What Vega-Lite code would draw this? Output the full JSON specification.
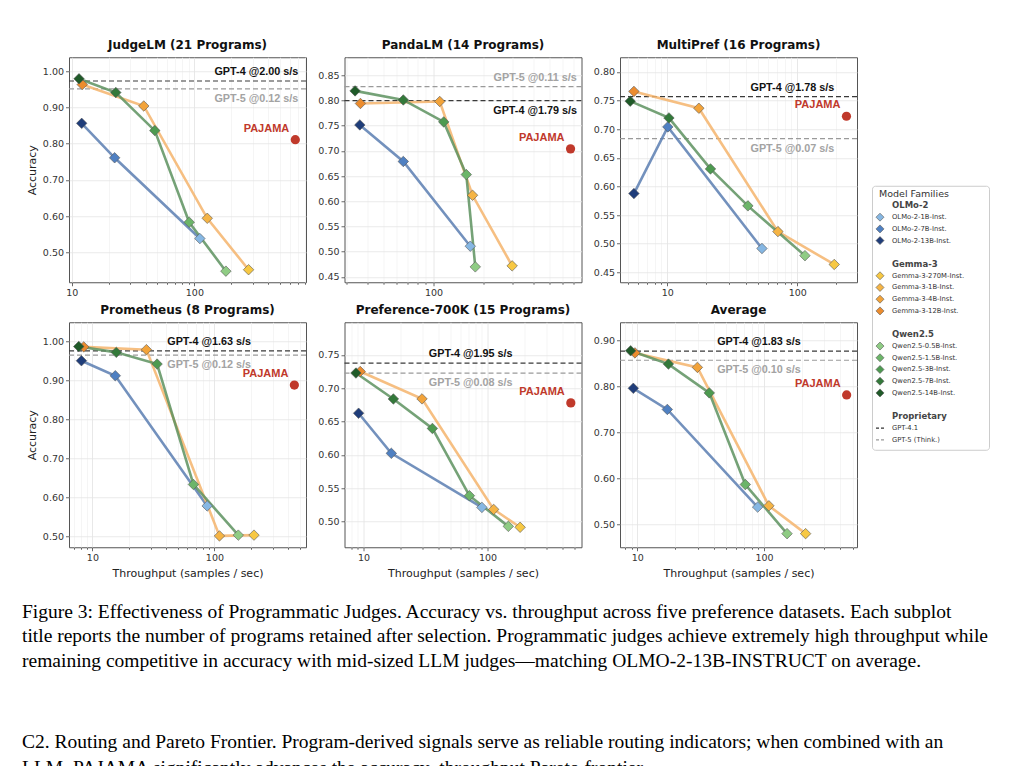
{
"$schema": "https://vega.github.io/schema/vega-lite/v6.json",
"background": "white",
"padding": {"left": 22, "top": 38, "right": 0, "bottom": 0},
"datasets": {
"models": [
{"ds":"JudgeLM","fam":"OLMo-2","m":"OLMo-2-13B-Inst.","x":12.07,"acc":0.856},
{"ds":"JudgeLM","fam":"OLMo-2","m":"OLMo-2-7B-Inst.","x":22.4,"acc":0.761},
{"ds":"JudgeLM","fam":"OLMo-2","m":"OLMo-2-1B-Inst.","x":110.9,"acc":0.538},
{"ds":"JudgeLM","fam":"Gemma-3","m":"Gemma-3-12B-Inst.","x":12.2,"acc":0.963},
{"ds":"JudgeLM","fam":"Gemma-3","m":"Gemma-3-4B-Inst.","x":38.7,"acc":0.904},
{"ds":"JudgeLM","fam":"Gemma-3","m":"Gemma-3-1B-Inst.","x":127.4,"acc":0.594},
{"ds":"JudgeLM","fam":"Gemma-3","m":"Gemma-3-270M-Inst.","x":276.7,"acc":0.452},
{"ds":"JudgeLM","fam":"Qwen2.5","m":"Qwen2.5-14B-Inst.","x":11.48,"acc":0.979},
{"ds":"JudgeLM","fam":"Qwen2.5","m":"Qwen2.5-7B-Inst.","x":22.9,"acc":0.941},
{"ds":"JudgeLM","fam":"Qwen2.5","m":"Qwen2.5-3B-Inst.","x":47.6,"acc":0.836},
{"ds":"JudgeLM","fam":"Qwen2.5","m":"Qwen2.5-1.5B-Inst.","x":90.8,"acc":0.583},
{"ds":"JudgeLM","fam":"Qwen2.5","m":"Qwen2.5-0.5B-Inst.","x":180.7,"acc":0.448},
{"ds":"PandaLM","fam":"OLMo-2","m":"OLMo-2-13B-Inst.","x":36.0,"acc":0.7515},
{"ds":"PandaLM","fam":"OLMo-2","m":"OLMo-2-7B-Inst.","x":65.8,"acc":0.679},
{"ds":"PandaLM","fam":"OLMo-2","m":"OLMo-2-1B-Inst.","x":166.7,"acc":0.511},
{"ds":"PandaLM","fam":"Gemma-3","m":"Gemma-3-12B-Inst.","x":36.3,"acc":0.794},
{"ds":"PandaLM","fam":"Gemma-3","m":"Gemma-3-4B-Inst.","x":109.1,"acc":0.798},
{"ds":"PandaLM","fam":"Gemma-3","m":"Gemma-3-1B-Inst.","x":172,"acc":0.612},
{"ds":"PandaLM","fam":"Gemma-3","m":"Gemma-3-270M-Inst.","x":298,"acc":0.472},
{"ds":"PandaLM","fam":"Qwen2.5","m":"Qwen2.5-14B-Inst.","x":33.7,"acc":0.819},
{"ds":"PandaLM","fam":"Qwen2.5","m":"Qwen2.5-7B-Inst.","x":65.8,"acc":0.801},
{"ds":"PandaLM","fam":"Qwen2.5","m":"Qwen2.5-3B-Inst.","x":115.3,"acc":0.7575},
{"ds":"PandaLM","fam":"Qwen2.5","m":"Qwen2.5-1.5B-Inst.","x":157.7,"acc":0.653},
{"ds":"PandaLM","fam":"Qwen2.5","m":"Qwen2.5-0.5B-Inst.","x":178.7,"acc":0.47},
{"ds":"MultiPref","fam":"OLMo-2","m":"OLMo-2-13B-Inst.","x":5.54,"acc":0.5875},
{"ds":"MultiPref","fam":"OLMo-2","m":"OLMo-2-7B-Inst.","x":10.1,"acc":0.704},
{"ds":"MultiPref","fam":"OLMo-2","m":"OLMo-2-1B-Inst.","x":53.5,"acc":0.4915},
{"ds":"MultiPref","fam":"Gemma-3","m":"Gemma-3-12B-Inst.","x":5.54,"acc":0.766},
{"ds":"MultiPref","fam":"Gemma-3","m":"Gemma-3-4B-Inst.","x":17.5,"acc":0.7366},
{"ds":"MultiPref","fam":"Gemma-3","m":"Gemma-3-1B-Inst.","x":71.0,"acc":0.521},
{"ds":"MultiPref","fam":"Gemma-3","m":"Gemma-3-270M-Inst.","x":192.5,"acc":0.4636},
{"ds":"MultiPref","fam":"Qwen2.5","m":"Qwen2.5-14B-Inst.","x":5.19,"acc":0.749},
{"ds":"MultiPref","fam":"Qwen2.5","m":"Qwen2.5-7B-Inst.","x":10.3,"acc":0.7197},
{"ds":"MultiPref","fam":"Qwen2.5","m":"Qwen2.5-3B-Inst.","x":21.5,"acc":0.6306},
{"ds":"MultiPref","fam":"Qwen2.5","m":"Qwen2.5-1.5B-Inst.","x":41.7,"acc":0.566},
{"ds":"MultiPref","fam":"Qwen2.5","m":"Qwen2.5-0.5B-Inst.","x":114.6,"acc":0.479},
{"ds":"Prometheus","fam":"OLMo-2","m":"OLMo-2-13B-Inst.","x":8.13,"acc":0.9506},
{"ds":"Prometheus","fam":"OLMo-2","m":"OLMo-2-7B-Inst.","x":15.4,"acc":0.912},
{"ds":"Prometheus","fam":"OLMo-2","m":"OLMo-2-1B-Inst.","x":87.2,"acc":0.578},
{"ds":"Prometheus","fam":"Gemma-3","m":"Gemma-3-12B-Inst.","x":8.49,"acc":0.986},
{"ds":"Prometheus","fam":"Gemma-3","m":"Gemma-3-4B-Inst.","x":27.7,"acc":0.979},
{"ds":"Prometheus","fam":"Gemma-3","m":"Gemma-3-1B-Inst.","x":110,"acc":0.501},
{"ds":"Prometheus","fam":"Gemma-3","m":"Gemma-3-270M-Inst.","x":211,"acc":0.503},
{"ds":"Prometheus","fam":"Qwen2.5","m":"Qwen2.5-14B-Inst.","x":7.73,"acc":0.987},
{"ds":"Prometheus","fam":"Qwen2.5","m":"Qwen2.5-7B-Inst.","x":15.7,"acc":0.972},
{"ds":"Prometheus","fam":"Qwen2.5","m":"Qwen2.5-3B-Inst.","x":33.9,"acc":0.942},
{"ds":"Prometheus","fam":"Qwen2.5","m":"Qwen2.5-1.5B-Inst.","x":67.3,"acc":0.633},
{"ds":"Prometheus","fam":"Qwen2.5","m":"Qwen2.5-0.5B-Inst.","x":157,"acc":0.503},
{"ds":"Preference-700K","fam":"OLMo-2","m":"OLMo-2-13B-Inst.","x":9.12,"acc":0.6625},
{"ds":"Preference-700K","fam":"OLMo-2","m":"OLMo-2-7B-Inst.","x":16.75,"acc":0.6024},
{"ds":"Preference-700K","fam":"OLMo-2","m":"OLMo-2-1B-Inst.","x":90.0,"acc":0.5214},
{"ds":"Preference-700K","fam":"Gemma-3","m":"Gemma-3-12B-Inst.","x":9.4,"acc":0.725},
{"ds":"Preference-700K","fam":"Gemma-3","m":"Gemma-3-4B-Inst.","x":29.6,"acc":0.684},
{"ds":"Preference-700K","fam":"Gemma-3","m":"Gemma-3-1B-Inst.","x":112,"acc":0.5184},
{"ds":"Preference-700K","fam":"Gemma-3","m":"Gemma-3-270M-Inst.","x":183,"acc":0.4916},
{"ds":"Preference-700K","fam":"Qwen2.5","m":"Qwen2.5-14B-Inst.","x":8.68,"acc":0.7227},
{"ds":"Preference-700K","fam":"Qwen2.5","m":"Qwen2.5-7B-Inst.","x":17.4,"acc":0.6839},
{"ds":"Preference-700K","fam":"Qwen2.5","m":"Qwen2.5-3B-Inst.","x":35.9,"acc":0.6397},
{"ds":"Preference-700K","fam":"Qwen2.5","m":"Qwen2.5-1.5B-Inst.","x":71.4,"acc":0.539},
{"ds":"Preference-700K","fam":"Qwen2.5","m":"Qwen2.5-0.5B-Inst.","x":147,"acc":0.493},
{"ds":"Average","fam":"OLMo-2","m":"OLMo-2-13B-Inst.","x":9.3,"acc":0.796},
{"ds":"Average","fam":"OLMo-2","m":"OLMo-2-7B-Inst.","x":17.25,"acc":0.75},
{"ds":"Average","fam":"OLMo-2","m":"OLMo-2-1B-Inst.","x":89.1,"acc":0.5376},
{"ds":"Average","fam":"Gemma-3","m":"Gemma-3-12B-Inst.","x":9.58,"acc":0.873},
{"ds":"Average","fam":"Gemma-3","m":"Gemma-3-4B-Inst.","x":29.8,"acc":0.8415},
{"ds":"Average","fam":"Gemma-3","m":"Gemma-3-1B-Inst.","x":109.3,"acc":0.5404},
{"ds":"Average","fam":"Gemma-3","m":"Gemma-3-270M-Inst.","x":213,"acc":0.4798},
{"ds":"Average","fam":"Qwen2.5","m":"Qwen2.5-14B-Inst.","x":8.86,"acc":0.8776},
{"ds":"Average","fam":"Qwen2.5","m":"Qwen2.5-7B-Inst.","x":17.6,"acc":0.8487},
{"ds":"Average","fam":"Qwen2.5","m":"Qwen2.5-3B-Inst.","x":37.0,"acc":0.786},
{"ds":"Average","fam":"Qwen2.5","m":"Qwen2.5-1.5B-Inst.","x":71.2,"acc":0.5867},
{"ds":"Average","fam":"Qwen2.5","m":"Qwen2.5-0.5B-Inst.","x":152,"acc":0.4798}
],
"refs": [
{"ds":"JudgeLM","kind":"GPT-4","acc":0.973,"x":320,"label":"GPT-4 @2.00 s/s"},
{"ds":"JudgeLM","kind":"GPT-5","acc":0.951,"x":320,"label":"GPT-5 @0.12 s/s"},
{"ds":"PandaLM","kind":"GPT-4","acc":0.7998,"x":410,"label":"GPT-4 @1.79 s/s"},
{"ds":"PandaLM","kind":"GPT-5","acc":0.8275,"x":410,"label":"GPT-5 @0.11 s/s"},
{"ds":"MultiPref","kind":"GPT-4","acc":0.757,"x":91.7,"label":"GPT-4 @1.78 s/s"},
{"ds":"MultiPref","kind":"GPT-5","acc":0.6836,"x":91.7,"label":"GPT-5 @0.07 s/s"},
{"ds":"Prometheus","kind":"GPT-4","acc":0.976,"x":90.5,"label":"GPT-4 @1.63 s/s"},
{"ds":"Prometheus","kind":"GPT-5","acc":0.965,"x":90.5,"label":"GPT-5 @0.12 s/s"},
{"ds":"Preference-700K","kind":"GPT-4","acc":0.7376,"x":73.1,"label":"GPT-4 @1.95 s/s"},
{"ds":"Preference-700K","kind":"GPT-5","acc":0.7227,"x":73.1,"label":"GPT-5 @0.08 s/s"},
{"ds":"Average","kind":"GPT-4","acc":0.877,"x":91.3,"label":"GPT-4 @1.83 s/s"},
{"ds":"Average","kind":"GPT-5","acc":0.857,"x":91.3,"label":"GPT-5 @0.10 s/s"}
],
"pajama": [
{"ds":"JudgeLM","x":665,"acc":0.811},
{"ds":"PandaLM","x":670,"acc":0.704},
{"ds":"MultiPref","x":239,"acc":0.7226},
{"ds":"Prometheus","x":452,"acc":0.888},
{"ds":"Preference-700K","x":469,"acc":0.678},
{"ds":"Average","x":449,"acc":0.7816}
],
"legend": [
{"i":0,"kind":"title","label":"Model Families"},
{"i":1,"kind":"header","label":"OLMo-2"},
{"i":2,"kind":"model","label":"OLMo-2-1B-Inst."},
{"i":3,"kind":"model","label":"OLMo-2-7B-Inst."},
{"i":4,"kind":"model","label":"OLMo-2-13B-Inst."},
{"i":6,"kind":"header","label":"Gemma-3"},
{"i":7,"kind":"model","label":"Gemma-3-270M-Inst."},
{"i":8,"kind":"model","label":"Gemma-3-1B-Inst."},
{"i":9,"kind":"model","label":"Gemma-3-4B-Inst."},
{"i":10,"kind":"model","label":"Gemma-3-12B-Inst."},
{"i":12,"kind":"header","label":"Qwen2.5"},
{"i":13,"kind":"model","label":"Qwen2.5-0.5B-Inst."},
{"i":14,"kind":"model","label":"Qwen2.5-1.5B-Inst."},
{"i":15,"kind":"model","label":"Qwen2.5-3B-Inst."},
{"i":16,"kind":"model","label":"Qwen2.5-7B-Inst."},
{"i":17,"kind":"model","label":"Qwen2.5-14B-Inst."},
{"i":19,"kind":"header","label":"Proprietary"},
{"i":20,"kind":"ref","label":"GPT-4.1","ref":"GPT-4"},
{"i":21,"kind":"ref","label":"GPT-5 (Think.)","ref":"GPT-5"}
]
},
"hconcat": [
{"vconcat": [
{"hconcat": [
{"width": 237, "height": 225, "title": "JudgeLM (21 Programs)",
 "encoding": {"y": {"field":"acc","type":"quantitative","title":"Accuracy","scale":{"domain":[0.4174,1.0385],"nice":false,"zero":false},"axis":{"values":[0.5,0.6,0.7,0.8,0.9,1.0],"format":".2f"}}},
 "layer": [
  {"data":{"name":"refs"},"transform":[{"filter":"datum.ds == 'JudgeLM'"}],"mark":{"type":"rule","strokeDash":[5,3],"strokeWidth":1.2},"encoding":{"color":{"condition":{"test":"datum.kind == 'GPT-4'","value":"#3a3a3a"},"value":"#9a9a9a"}}},
  {"data":{"name":"models"},"transform":[{"filter":"datum.ds == 'JudgeLM'"}],"mark":{"type":"line","strokeWidth":2.6,"opacity":0.85},"encoding":{"x":{"field":"x","type":"quantitative","title":null,"scale":{"type":"log","domain":[9.51,813],"nice":false},"axis":{"values":[10,20,30,40,50,60,70,80,90,100,200,300,400,500,600,700,800],"format":"d","labelExpr":"datum.value == 10 || datum.value == 100 ? datum.label : ''","tickSize":{"condition":{"test":"datum.value == 10 || datum.value == 100","value":3.5},"value":2},"gridColor":{"condition":{"test":"datum.value == 10 || datum.value == 100","value":"#e2e2e2"},"value":"#f2f2f2"}}},"stroke":{"field":"fam","type":"nominal","scale":{"domain":["OLMo-2","Gemma-3","Qwen2.5"],"range":["#5b7eb2","#f5b46c","#5d925f"]},"legend":null}}},
  {"data":{"name":"models"},"transform":[{"filter":"datum.ds == 'JudgeLM'"}],"mark":{"type":"point","shape":"diamond","filled":true,"size":110,"stroke":"#555555","strokeWidth":0.6,"opacity":1},"encoding":{"x":{"field":"x","type":"quantitative","title":null,"scale":{"type":"log","domain":[9.51,813],"nice":false}},
   "fill":{"field":"m","type":"nominal","legend":null,"scale":{"domain":["OLMo-2-1B-Inst.","OLMo-2-7B-Inst.","OLMo-2-13B-Inst.","Gemma-3-270M-Inst.","Gemma-3-1B-Inst.","Gemma-3-4B-Inst.","Gemma-3-12B-Inst.","Qwen2.5-0.5B-Inst.","Qwen2.5-1.5B-Inst.","Qwen2.5-3B-Inst.","Qwen2.5-7B-Inst.","Qwen2.5-14B-Inst."],"range":["#86b7e3","#4f80c2","#1f3d7a","#f7c843","#f5b445","#f2a33a","#ec8c2e","#8fcc84","#6cb569","#4d9a50","#33793a","#1f5a28"]}}}},
  {"data":{"name":"pajama"},"transform":[{"filter":"datum.ds == 'JudgeLM'"}],"mark":{"type":"point","shape":"circle","filled":true,"size":85,"color":"#c0392b","opacity":1},"encoding":{"x":{"field":"x","type":"quantitative","title":null,"scale":{"type":"log","domain":[9.51,813],"nice":false}}}},
  {"data":{"name":"pajama"},"transform":[{"filter":"datum.ds == 'JudgeLM'"}],"mark":{"type":"text","text":"PAJAMA","align":"right","baseline":"middle","dx":-6,"dy":-11,"font":"Liberation Sans","fontWeight":"bold","fontSize":11,"color":"#c0392b"},"encoding":{"x":{"field":"x","type":"quantitative","title":null,"scale":{"type":"log","domain":[9.51,813],"nice":false}}}},
  {"data":{"name":"refs"},"transform":[{"filter":"datum.ds == 'JudgeLM'"},{"joinaggregate":[{"op":"max","field":"acc","as":"mx"}]},{"filter":"datum.acc == datum.mx"}],"mark":{"type":"text","baseline":"middle","dy":-9,"font":"Liberation Sans","fontWeight":"bold","fontSize":10.8},"encoding":{"x":{"field":"x","type":"quantitative","title":null,"scale":{"type":"log","domain":[9.51,813],"nice":false}},"text":{"field":"label"},"color":{"condition":{"test":"datum.kind == 'GPT-4'","value":"#111111"},"value":"#a3a3a3"}}},
  {"data":{"name":"refs"},"transform":[{"filter":"datum.ds == 'JudgeLM'"},{"joinaggregate":[{"op":"max","field":"acc","as":"mx"}]},{"filter":"datum.acc < datum.mx"}],"mark":{"type":"text","baseline":"middle","dy":10,"font":"Liberation Sans","fontWeight":"bold","fontSize":10.8},"encoding":{"x":{"field":"x","type":"quantitative","title":null,"scale":{"type":"log","domain":[9.51,813],"nice":false}},"text":{"field":"label"},"color":{"condition":{"test":"datum.kind == 'GPT-4'","value":"#111111"},"value":"#a3a3a3"}}}
 ]},
{"width": 237, "height": 225, "title": "PandaLM (14 Programs)",
 "encoding": {"y": {"field":"acc","type":"quantitative","title":null,"scale":{"domain":[0.4395,0.8857],"nice":false,"zero":false},"axis":{"values":[0.45,0.5,0.55,0.6,0.65,0.7,0.75,0.8,0.85],"format":".2f"}}},
 "layer": [
  {"data":{"name":"refs"},"transform":[{"filter":"datum.ds == 'PandaLM'"}],"mark":{"type":"rule","strokeDash":[5,3],"strokeWidth":1.2},"encoding":{"color":{"condition":{"test":"datum.kind == 'GPT-4'","value":"#3a3a3a"},"value":"#9a9a9a"}}},
  {"data":{"name":"models"},"transform":[{"filter":"datum.ds == 'PandaLM'"}],"mark":{"type":"line","strokeWidth":2.6,"opacity":0.85},"encoding":{"x":{"field":"x","type":"quantitative","title":null,"scale":{"type":"log","domain":[29.1,780],"nice":false},"axis":{"values":[30,40,50,60,70,80,90,100,200,300,400,500,600,700],"format":"d","labelExpr":"datum.value == 10 || datum.value == 100 ? datum.label : ''","tickSize":{"condition":{"test":"datum.value == 10 || datum.value == 100","value":3.5},"value":2},"gridColor":{"condition":{"test":"datum.value == 10 || datum.value == 100","value":"#e2e2e2"},"value":"#f2f2f2"}}},"stroke":{"field":"fam","type":"nominal","scale":{"domain":["OLMo-2","Gemma-3","Qwen2.5"],"range":["#5b7eb2","#f5b46c","#5d925f"]},"legend":null}}},
  {"data":{"name":"models"},"transform":[{"filter":"datum.ds == 'PandaLM'"}],"mark":{"type":"point","shape":"diamond","filled":true,"size":110,"stroke":"#555555","strokeWidth":0.6,"opacity":1},"encoding":{"x":{"field":"x","type":"quantitative","title":null,"scale":{"type":"log","domain":[29.1,780],"nice":false}},
   "fill":{"field":"m","type":"nominal","legend":null,"scale":{"domain":["OLMo-2-1B-Inst.","OLMo-2-7B-Inst.","OLMo-2-13B-Inst.","Gemma-3-270M-Inst.","Gemma-3-1B-Inst.","Gemma-3-4B-Inst.","Gemma-3-12B-Inst.","Qwen2.5-0.5B-Inst.","Qwen2.5-1.5B-Inst.","Qwen2.5-3B-Inst.","Qwen2.5-7B-Inst.","Qwen2.5-14B-Inst."],"range":["#86b7e3","#4f80c2","#1f3d7a","#f7c843","#f5b445","#f2a33a","#ec8c2e","#8fcc84","#6cb569","#4d9a50","#33793a","#1f5a28"]}}}},
  {"data":{"name":"pajama"},"transform":[{"filter":"datum.ds == 'PandaLM'"}],"mark":{"type":"point","shape":"circle","filled":true,"size":85,"color":"#c0392b","opacity":1},"encoding":{"x":{"field":"x","type":"quantitative","title":null,"scale":{"type":"log","domain":[29.1,780],"nice":false}}}},
  {"data":{"name":"pajama"},"transform":[{"filter":"datum.ds == 'PandaLM'"}],"mark":{"type":"text","text":"PAJAMA","align":"right","baseline":"middle","dx":-6,"dy":-11,"font":"Liberation Sans","fontWeight":"bold","fontSize":11,"color":"#c0392b"},"encoding":{"x":{"field":"x","type":"quantitative","title":null,"scale":{"type":"log","domain":[29.1,780],"nice":false}}}},
  {"data":{"name":"refs"},"transform":[{"filter":"datum.ds == 'PandaLM'"},{"joinaggregate":[{"op":"max","field":"acc","as":"mx"}]},{"filter":"datum.acc == datum.mx"}],"mark":{"type":"text","baseline":"middle","dy":-9,"font":"Liberation Sans","fontWeight":"bold","fontSize":10.8},"encoding":{"x":{"field":"x","type":"quantitative","title":null,"scale":{"type":"log","domain":[29.1,780],"nice":false}},"text":{"field":"label"},"color":{"condition":{"test":"datum.kind == 'GPT-4'","value":"#111111"},"value":"#a3a3a3"}}},
  {"data":{"name":"refs"},"transform":[{"filter":"datum.ds == 'PandaLM'"},{"joinaggregate":[{"op":"max","field":"acc","as":"mx"}]},{"filter":"datum.acc < datum.mx"}],"mark":{"type":"text","baseline":"middle","dy":10,"font":"Liberation Sans","fontWeight":"bold","fontSize":10.8},"encoding":{"x":{"field":"x","type":"quantitative","title":null,"scale":{"type":"log","domain":[29.1,780],"nice":false}},"text":{"field":"label"},"color":{"condition":{"test":"datum.kind == 'GPT-4'","value":"#111111"},"value":"#a3a3a3"}}}
 ]},
{"width": 237, "height": 225, "title": "MultiPref (16 Programs)",
 "encoding": {"y": {"field":"acc","type":"quantitative","title":null,"scale":{"domain":[0.4325,0.8257],"nice":false,"zero":false},"axis":{"values":[0.45,0.5,0.55,0.6,0.65,0.7,0.75,0.8],"format":".2f"}}},
 "layer": [
  {"data":{"name":"refs"},"transform":[{"filter":"datum.ds == 'MultiPref'"}],"mark":{"type":"rule","strokeDash":[5,3],"strokeWidth":1.2},"encoding":{"color":{"condition":{"test":"datum.kind == 'GPT-4'","value":"#3a3a3a"},"value":"#9a9a9a"}}},
  {"data":{"name":"models"},"transform":[{"filter":"datum.ds == 'MultiPref'"}],"mark":{"type":"line","strokeWidth":2.6,"opacity":0.85},"encoding":{"x":{"field":"x","type":"quantitative","title":null,"scale":{"type":"log","domain":[4.33,288],"nice":false},"axis":{"values":[5,6,7,8,9,10,20,30,40,50,60,70,80,90,100,200],"format":"d","labelExpr":"datum.value == 10 || datum.value == 100 ? datum.label : ''","tickSize":{"condition":{"test":"datum.value == 10 || datum.value == 100","value":3.5},"value":2},"gridColor":{"condition":{"test":"datum.value == 10 || datum.value == 100","value":"#e2e2e2"},"value":"#f2f2f2"}}},"stroke":{"field":"fam","type":"nominal","scale":{"domain":["OLMo-2","Gemma-3","Qwen2.5"],"range":["#5b7eb2","#f5b46c","#5d925f"]},"legend":null}}},
  {"data":{"name":"models"},"transform":[{"filter":"datum.ds == 'MultiPref'"}],"mark":{"type":"point","shape":"diamond","filled":true,"size":110,"stroke":"#555555","strokeWidth":0.6,"opacity":1},"encoding":{"x":{"field":"x","type":"quantitative","title":null,"scale":{"type":"log","domain":[4.33,288],"nice":false}},
   "fill":{"field":"m","type":"nominal","legend":null,"scale":{"domain":["OLMo-2-1B-Inst.","OLMo-2-7B-Inst.","OLMo-2-13B-Inst.","Gemma-3-270M-Inst.","Gemma-3-1B-Inst.","Gemma-3-4B-Inst.","Gemma-3-12B-Inst.","Qwen2.5-0.5B-Inst.","Qwen2.5-1.5B-Inst.","Qwen2.5-3B-Inst.","Qwen2.5-7B-Inst.","Qwen2.5-14B-Inst."],"range":["#86b7e3","#4f80c2","#1f3d7a","#f7c843","#f5b445","#f2a33a","#ec8c2e","#8fcc84","#6cb569","#4d9a50","#33793a","#1f5a28"]}}}},
  {"data":{"name":"pajama"},"transform":[{"filter":"datum.ds == 'MultiPref'"}],"mark":{"type":"point","shape":"circle","filled":true,"size":85,"color":"#c0392b","opacity":1},"encoding":{"x":{"field":"x","type":"quantitative","title":null,"scale":{"type":"log","domain":[4.33,288],"nice":false}}}},
  {"data":{"name":"pajama"},"transform":[{"filter":"datum.ds == 'MultiPref'"}],"mark":{"type":"text","text":"PAJAMA","align":"right","baseline":"middle","dx":-6,"dy":-11,"font":"Liberation Sans","fontWeight":"bold","fontSize":11,"color":"#c0392b"},"encoding":{"x":{"field":"x","type":"quantitative","title":null,"scale":{"type":"log","domain":[4.33,288],"nice":false}}}},
  {"data":{"name":"refs"},"transform":[{"filter":"datum.ds == 'MultiPref'"},{"joinaggregate":[{"op":"max","field":"acc","as":"mx"}]},{"filter":"datum.acc == datum.mx"}],"mark":{"type":"text","baseline":"middle","dy":-9,"font":"Liberation Sans","fontWeight":"bold","fontSize":10.8},"encoding":{"x":{"field":"x","type":"quantitative","title":null,"scale":{"type":"log","domain":[4.33,288],"nice":false}},"text":{"field":"label"},"color":{"condition":{"test":"datum.kind == 'GPT-4'","value":"#111111"},"value":"#a3a3a3"}}},
  {"data":{"name":"refs"},"transform":[{"filter":"datum.ds == 'MultiPref'"},{"joinaggregate":[{"op":"max","field":"acc","as":"mx"}]},{"filter":"datum.acc < datum.mx"}],"mark":{"type":"text","baseline":"middle","dy":10,"font":"Liberation Sans","fontWeight":"bold","fontSize":10.8},"encoding":{"x":{"field":"x","type":"quantitative","title":null,"scale":{"type":"log","domain":[4.33,288],"nice":false}},"text":{"field":"label"},"color":{"condition":{"test":"datum.kind == 'GPT-4'","value":"#111111"},"value":"#a3a3a3"}}}
 ]}
], "spacing": 38.5, "bounds": "flush"},
{"hconcat": [
{"width": 237, "height": 225, "title": "Prometheus (8 Programs)",
 "encoding": {"y": {"field":"acc","type":"quantitative","title":"Accuracy","scale":{"domain":[0.4719,1.0493],"nice":false,"zero":false},"axis":{"values":[0.5,0.6,0.7,0.8,0.9,1.0],"format":".2f"}}},
 "layer": [
  {"data":{"name":"refs"},"transform":[{"filter":"datum.ds == 'Prometheus'"}],"mark":{"type":"rule","strokeDash":[5,3],"strokeWidth":1.2},"encoding":{"color":{"condition":{"test":"datum.kind == 'GPT-4'","value":"#3a3a3a"},"value":"#9a9a9a"}}},
  {"data":{"name":"models"},"transform":[{"filter":"datum.ds == 'Prometheus'"}],"mark":{"type":"line","strokeWidth":2.6,"opacity":0.85},"encoding":{"x":{"field":"x","type":"quantitative","title":"Throughput (samples / sec)","scale":{"type":"log","domain":[6.43,563],"nice":false},"axis":{"values":[7,8,9,10,20,30,40,50,60,70,80,90,100,200,300,400,500],"format":"d","labelExpr":"datum.value == 10 || datum.value == 100 ? datum.label : ''","tickSize":{"condition":{"test":"datum.value == 10 || datum.value == 100","value":3.5},"value":2},"gridColor":{"condition":{"test":"datum.value == 10 || datum.value == 100","value":"#e2e2e2"},"value":"#f2f2f2"}}},"stroke":{"field":"fam","type":"nominal","scale":{"domain":["OLMo-2","Gemma-3","Qwen2.5"],"range":["#5b7eb2","#f5b46c","#5d925f"]},"legend":null}}},
  {"data":{"name":"models"},"transform":[{"filter":"datum.ds == 'Prometheus'"}],"mark":{"type":"point","shape":"diamond","filled":true,"size":110,"stroke":"#555555","strokeWidth":0.6,"opacity":1},"encoding":{"x":{"field":"x","type":"quantitative","title":"Throughput (samples / sec)","scale":{"type":"log","domain":[6.43,563],"nice":false}},
   "fill":{"field":"m","type":"nominal","legend":null,"scale":{"domain":["OLMo-2-1B-Inst.","OLMo-2-7B-Inst.","OLMo-2-13B-Inst.","Gemma-3-270M-Inst.","Gemma-3-1B-Inst.","Gemma-3-4B-Inst.","Gemma-3-12B-Inst.","Qwen2.5-0.5B-Inst.","Qwen2.5-1.5B-Inst.","Qwen2.5-3B-Inst.","Qwen2.5-7B-Inst.","Qwen2.5-14B-Inst."],"range":["#86b7e3","#4f80c2","#1f3d7a","#f7c843","#f5b445","#f2a33a","#ec8c2e","#8fcc84","#6cb569","#4d9a50","#33793a","#1f5a28"]}}}},
  {"data":{"name":"pajama"},"transform":[{"filter":"datum.ds == 'Prometheus'"}],"mark":{"type":"point","shape":"circle","filled":true,"size":85,"color":"#c0392b","opacity":1},"encoding":{"x":{"field":"x","type":"quantitative","title":"Throughput (samples / sec)","scale":{"type":"log","domain":[6.43,563],"nice":false}}}},
  {"data":{"name":"pajama"},"transform":[{"filter":"datum.ds == 'Prometheus'"}],"mark":{"type":"text","text":"PAJAMA","align":"right","baseline":"middle","dx":-6,"dy":-11,"font":"Liberation Sans","fontWeight":"bold","fontSize":11,"color":"#c0392b"},"encoding":{"x":{"field":"x","type":"quantitative","title":"Throughput (samples / sec)","scale":{"type":"log","domain":[6.43,563],"nice":false}}}},
  {"data":{"name":"refs"},"transform":[{"filter":"datum.ds == 'Prometheus'"},{"joinaggregate":[{"op":"max","field":"acc","as":"mx"}]},{"filter":"datum.acc == datum.mx"}],"mark":{"type":"text","baseline":"middle","dy":-9,"font":"Liberation Sans","fontWeight":"bold","fontSize":10.8},"encoding":{"x":{"field":"x","type":"quantitative","title":"Throughput (samples / sec)","scale":{"type":"log","domain":[6.43,563],"nice":false}},"text":{"field":"label"},"color":{"condition":{"test":"datum.kind == 'GPT-4'","value":"#111111"},"value":"#a3a3a3"}}},
  {"data":{"name":"refs"},"transform":[{"filter":"datum.ds == 'Prometheus'"},{"joinaggregate":[{"op":"max","field":"acc","as":"mx"}]},{"filter":"datum.acc < datum.mx"}],"mark":{"type":"text","baseline":"middle","dy":10,"font":"Liberation Sans","fontWeight":"bold","fontSize":10.8},"encoding":{"x":{"field":"x","type":"quantitative","title":"Throughput (samples / sec)","scale":{"type":"log","domain":[6.43,563],"nice":false}},"text":{"field":"label"},"color":{"condition":{"test":"datum.kind == 'GPT-4'","value":"#111111"},"value":"#a3a3a3"}}}
 ]},
{"width": 237, "height": 225, "title": "Preference-700K (15 Programs)",
 "encoding": {"y": {"field":"acc","type":"quantitative","title":null,"scale":{"domain":[0.4617,0.7988],"nice":false,"zero":false},"axis":{"values":[0.5,0.55,0.6,0.65,0.7,0.75],"format":".2f"}}},
 "layer": [
  {"data":{"name":"refs"},"transform":[{"filter":"datum.ds == 'Preference-700K'"}],"mark":{"type":"rule","strokeDash":[5,3],"strokeWidth":1.2},"encoding":{"color":{"condition":{"test":"datum.kind == 'GPT-4'","value":"#3a3a3a"},"value":"#9a9a9a"}}},
  {"data":{"name":"models"},"transform":[{"filter":"datum.ds == 'Preference-700K'"}],"mark":{"type":"line","strokeWidth":2.6,"opacity":0.85},"encoding":{"x":{"field":"x","type":"quantitative","title":"Throughput (samples / sec)","scale":{"type":"log","domain":[7.02,572],"nice":false},"axis":{"values":[8,9,10,20,30,40,50,60,70,80,90,100,200,300,400,500],"format":"d","labelExpr":"datum.value == 10 || datum.value == 100 ? datum.label : ''","tickSize":{"condition":{"test":"datum.value == 10 || datum.value == 100","value":3.5},"value":2},"gridColor":{"condition":{"test":"datum.value == 10 || datum.value == 100","value":"#e2e2e2"},"value":"#f2f2f2"}}},"stroke":{"field":"fam","type":"nominal","scale":{"domain":["OLMo-2","Gemma-3","Qwen2.5"],"range":["#5b7eb2","#f5b46c","#5d925f"]},"legend":null}}},
  {"data":{"name":"models"},"transform":[{"filter":"datum.ds == 'Preference-700K'"}],"mark":{"type":"point","shape":"diamond","filled":true,"size":110,"stroke":"#555555","strokeWidth":0.6,"opacity":1},"encoding":{"x":{"field":"x","type":"quantitative","title":"Throughput (samples / sec)","scale":{"type":"log","domain":[7.02,572],"nice":false}},
   "fill":{"field":"m","type":"nominal","legend":null,"scale":{"domain":["OLMo-2-1B-Inst.","OLMo-2-7B-Inst.","OLMo-2-13B-Inst.","Gemma-3-270M-Inst.","Gemma-3-1B-Inst.","Gemma-3-4B-Inst.","Gemma-3-12B-Inst.","Qwen2.5-0.5B-Inst.","Qwen2.5-1.5B-Inst.","Qwen2.5-3B-Inst.","Qwen2.5-7B-Inst.","Qwen2.5-14B-Inst."],"range":["#86b7e3","#4f80c2","#1f3d7a","#f7c843","#f5b445","#f2a33a","#ec8c2e","#8fcc84","#6cb569","#4d9a50","#33793a","#1f5a28"]}}}},
  {"data":{"name":"pajama"},"transform":[{"filter":"datum.ds == 'Preference-700K'"}],"mark":{"type":"point","shape":"circle","filled":true,"size":85,"color":"#c0392b","opacity":1},"encoding":{"x":{"field":"x","type":"quantitative","title":"Throughput (samples / sec)","scale":{"type":"log","domain":[7.02,572],"nice":false}}}},
  {"data":{"name":"pajama"},"transform":[{"filter":"datum.ds == 'Preference-700K'"}],"mark":{"type":"text","text":"PAJAMA","align":"right","baseline":"middle","dx":-6,"dy":-11,"font":"Liberation Sans","fontWeight":"bold","fontSize":11,"color":"#c0392b"},"encoding":{"x":{"field":"x","type":"quantitative","title":"Throughput (samples / sec)","scale":{"type":"log","domain":[7.02,572],"nice":false}}}},
  {"data":{"name":"refs"},"transform":[{"filter":"datum.ds == 'Preference-700K'"},{"joinaggregate":[{"op":"max","field":"acc","as":"mx"}]},{"filter":"datum.acc == datum.mx"}],"mark":{"type":"text","baseline":"middle","dy":-9,"font":"Liberation Sans","fontWeight":"bold","fontSize":10.8},"encoding":{"x":{"field":"x","type":"quantitative","title":"Throughput (samples / sec)","scale":{"type":"log","domain":[7.02,572],"nice":false}},"text":{"field":"label"},"color":{"condition":{"test":"datum.kind == 'GPT-4'","value":"#111111"},"value":"#a3a3a3"}}},
  {"data":{"name":"refs"},"transform":[{"filter":"datum.ds == 'Preference-700K'"},{"joinaggregate":[{"op":"max","field":"acc","as":"mx"}]},{"filter":"datum.acc < datum.mx"}],"mark":{"type":"text","baseline":"middle","dy":10,"font":"Liberation Sans","fontWeight":"bold","fontSize":10.8},"encoding":{"x":{"field":"x","type":"quantitative","title":"Throughput (samples / sec)","scale":{"type":"log","domain":[7.02,572],"nice":false}},"text":{"field":"label"},"color":{"condition":{"test":"datum.kind == 'GPT-4'","value":"#111111"},"value":"#a3a3a3"}}}
 ]},
{"width": 237, "height": 225, "title": "Average",
 "encoding": {"y": {"field":"acc","type":"quantitative","title":null,"scale":{"domain":[0.4502,0.9397],"nice":false,"zero":false},"axis":{"values":[0.5,0.6,0.7,0.8,0.9],"format":".2f"}}},
 "layer": [
  {"data":{"name":"refs"},"transform":[{"filter":"datum.ds == 'Average'"}],"mark":{"type":"rule","strokeDash":[5,3],"strokeWidth":1.2},"encoding":{"color":{"condition":{"test":"datum.kind == 'GPT-4'","value":"#3a3a3a"},"value":"#9a9a9a"}}},
  {"data":{"name":"models"},"transform":[{"filter":"datum.ds == 'Average'"}],"mark":{"type":"line","strokeWidth":2.6,"opacity":0.85},"encoding":{"x":{"field":"x","type":"quantitative","title":"Throughput (samples / sec)","scale":{"type":"log","domain":[7.3,542],"nice":false},"axis":{"values":[8,9,10,20,30,40,50,60,70,80,90,100,200,300,400,500],"format":"d","labelExpr":"datum.value == 10 || datum.value == 100 ? datum.label : ''","tickSize":{"condition":{"test":"datum.value == 10 || datum.value == 100","value":3.5},"value":2},"gridColor":{"condition":{"test":"datum.value == 10 || datum.value == 100","value":"#e2e2e2"},"value":"#f2f2f2"}}},"stroke":{"field":"fam","type":"nominal","scale":{"domain":["OLMo-2","Gemma-3","Qwen2.5"],"range":["#5b7eb2","#f5b46c","#5d925f"]},"legend":null}}},
  {"data":{"name":"models"},"transform":[{"filter":"datum.ds == 'Average'"}],"mark":{"type":"point","shape":"diamond","filled":true,"size":110,"stroke":"#555555","strokeWidth":0.6,"opacity":1},"encoding":{"x":{"field":"x","type":"quantitative","title":"Throughput (samples / sec)","scale":{"type":"log","domain":[7.3,542],"nice":false}},
   "fill":{"field":"m","type":"nominal","legend":null,"scale":{"domain":["OLMo-2-1B-Inst.","OLMo-2-7B-Inst.","OLMo-2-13B-Inst.","Gemma-3-270M-Inst.","Gemma-3-1B-Inst.","Gemma-3-4B-Inst.","Gemma-3-12B-Inst.","Qwen2.5-0.5B-Inst.","Qwen2.5-1.5B-Inst.","Qwen2.5-3B-Inst.","Qwen2.5-7B-Inst.","Qwen2.5-14B-Inst."],"range":["#86b7e3","#4f80c2","#1f3d7a","#f7c843","#f5b445","#f2a33a","#ec8c2e","#8fcc84","#6cb569","#4d9a50","#33793a","#1f5a28"]}}}},
  {"data":{"name":"pajama"},"transform":[{"filter":"datum.ds == 'Average'"}],"mark":{"type":"point","shape":"circle","filled":true,"size":85,"color":"#c0392b","opacity":1},"encoding":{"x":{"field":"x","type":"quantitative","title":"Throughput (samples / sec)","scale":{"type":"log","domain":[7.3,542],"nice":false}}}},
  {"data":{"name":"pajama"},"transform":[{"filter":"datum.ds == 'Average'"}],"mark":{"type":"text","text":"PAJAMA","align":"right","baseline":"middle","dx":-6,"dy":-11,"font":"Liberation Sans","fontWeight":"bold","fontSize":11,"color":"#c0392b"},"encoding":{"x":{"field":"x","type":"quantitative","title":"Throughput (samples / sec)","scale":{"type":"log","domain":[7.3,542],"nice":false}}}},
  {"data":{"name":"refs"},"transform":[{"filter":"datum.ds == 'Average'"},{"joinaggregate":[{"op":"max","field":"acc","as":"mx"}]},{"filter":"datum.acc == datum.mx"}],"mark":{"type":"text","baseline":"middle","dy":-9,"font":"Liberation Sans","fontWeight":"bold","fontSize":10.8},"encoding":{"x":{"field":"x","type":"quantitative","title":"Throughput (samples / sec)","scale":{"type":"log","domain":[7.3,542],"nice":false}},"text":{"field":"label"},"color":{"condition":{"test":"datum.kind == 'GPT-4'","value":"#111111"},"value":"#a3a3a3"}}},
  {"data":{"name":"refs"},"transform":[{"filter":"datum.ds == 'Average'"},{"joinaggregate":[{"op":"max","field":"acc","as":"mx"}]},{"filter":"datum.acc < datum.mx"}],"mark":{"type":"text","baseline":"middle","dy":10,"font":"Liberation Sans","fontWeight":"bold","fontSize":10.8},"encoding":{"x":{"field":"x","type":"quantitative","title":"Throughput (samples / sec)","scale":{"type":"log","domain":[7.3,542],"nice":false}},"text":{"field":"label"},"color":{"condition":{"test":"datum.kind == 'GPT-4'","value":"#111111"},"value":"#a3a3a3"}}}
 ]}
], "spacing": 38.5, "bounds": "flush"}
], "spacing": 5},
{"width": 117, "height": 264,
 "view": {"stroke": "#cccccc", "strokeWidth": 1, "cornerRadius": 3, "fill": "#ffffff"},
 "data": {"name": "legend"},
 "encoding": {"y": {"field":"i","type":"quantitative","title":null,"axis":null,"scale":{"domain":[-0.683,21.85],"reverse":true,"nice":false,"zero":false}}},
 "layer": [
  {"transform":[{"filter":"datum.kind == 'title'"}],"mark":{"type":"text","align":"left","baseline":"middle","dx":-51.5,"font":"DejaVu Sans","fontSize":9.5,"color":"#333333"},"encoding":{"text":{"field":"label"}}},
  {"transform":[{"filter":"datum.kind == 'header'"}],"mark":{"type":"text","align":"left","baseline":"middle","dx":-38.5,"font":"DejaVu Sans","fontWeight":"bold","fontSize":8.5,"color":"#444444"},"encoding":{"text":{"field":"label"}}},
  {"transform":[{"filter":"datum.kind == 'model' || datum.kind == 'ref'"}],"mark":{"type":"text","align":"left","baseline":"middle","dx":-38.5,"font":"DejaVu Sans","fontSize":6.8,"color":"#333333"},"encoding":{"text":{"field":"label"}}},
  {"transform":[{"filter":"datum.kind == 'model'"}],"mark":{"type":"point","shape":"diamond","filled":true,"size":64,"stroke":"#555555","strokeWidth":0.6,"opacity":1,"xOffset":-50.5},
   "encoding":{"fill":{"field":"label","type":"nominal","legend":null,"scale":{"domain":["OLMo-2-1B-Inst.","OLMo-2-7B-Inst.","OLMo-2-13B-Inst.","Gemma-3-270M-Inst.","Gemma-3-1B-Inst.","Gemma-3-4B-Inst.","Gemma-3-12B-Inst.","Qwen2.5-0.5B-Inst.","Qwen2.5-1.5B-Inst.","Qwen2.5-3B-Inst.","Qwen2.5-7B-Inst.","Qwen2.5-14B-Inst."],"range":["#86b7e3","#4f80c2","#1f3d7a","#f7c843","#f5b445","#f2a33a","#ec8c2e","#8fcc84","#6cb569","#4d9a50","#33793a","#1f5a28"]}}}},
  {"transform":[{"filter":"datum.kind == 'ref'"}],"mark":{"type":"point","shape":"stroke","filled":false,"size":64,"strokeWidth":1.2,"strokeDash":[3,2],"opacity":1,"xOffset":-50.5},
   "encoding":{"color":{"condition":{"test":"datum.ref == 'GPT-4'","value":"#333333"},"value":"#999999"}}}
 ]}
],
"spacing": 12,
"center": true,
"title": {
 "text": ["Figure 3: Effectiveness of Programmatic Judges. Accuracy vs. throughput across five preference datasets. Each subplot", "title reports the number of programs retained after selection. Programmatic judges achieve extremely high throughput while", "remaining competitive in accuracy with mid-sized LLM judges—matching OLMO-2-13B-INSTRUCT on average."],
 "subtitle": ["C2.  Routing and Pareto Frontier. Program-derived signals serve as reliable routing indicators; when combined with an", "LLM, PAJAMA significantly advances the accuracy–throughput Pareto frontier."],
 "orient": "bottom", "anchor": "start", "frame": "group", "offset": 24, "dx": -47,
 "font": "Liberation Serif", "fontSize": 19.5, "fontWeight": "normal", "color": "#000000", "lineHeight": 24.5,
 "subtitleFont": "Liberation Serif", "subtitleFontSize": 19.5, "subtitleColor": "#000000", "subtitleLineHeight": 26, "subtitlePadding": 62
},
"config": {
 "font": "DejaVu Sans",
 "view": {"stroke": "#555555", "strokeWidth": 1},
 "axis": {"domain": false, "labelFont": "DejaVu Sans", "labelFontSize": 9.5, "labelColor": "#333333", "tickColor": "#444444", "tickWidth": 0.8, "titleFont": "DejaVu Sans", "titleFontSize": 11, "titleFontWeight": "normal", "titleColor": "#222222", "gridColor": "#e4e4e4", "gridWidth": 0.8},
 "axisY": {"tickSize": 3.5, "labelPadding": 2, "titlePadding": 5},
 "axisX": {"labelPadding": 2, "titlePadding": 5},
 "title": {"font": "DejaVu Sans", "fontSize": 12, "fontWeight": "bold", "color": "#111111", "offset": 5}
}
}
